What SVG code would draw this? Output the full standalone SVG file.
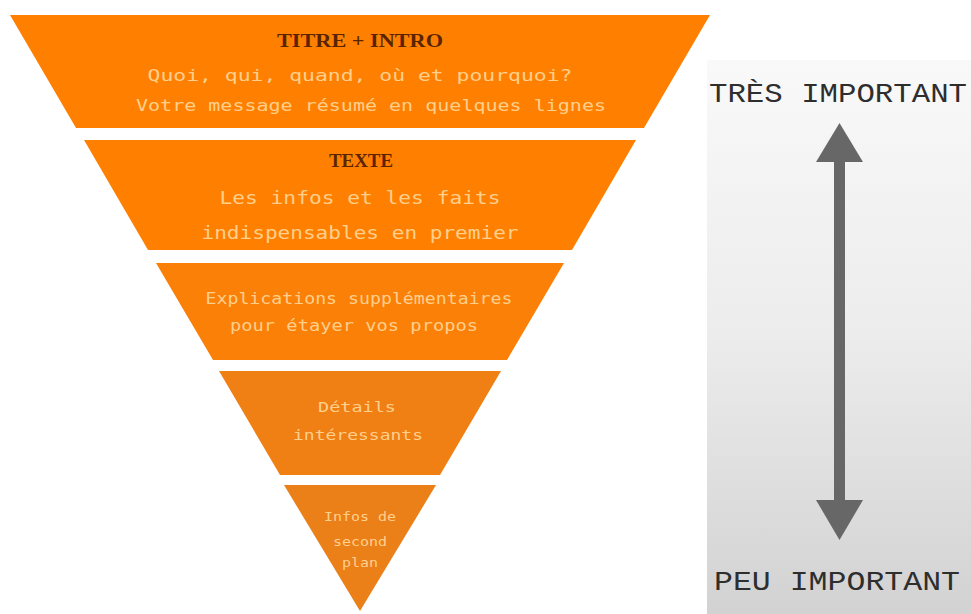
<svg xmlns="http://www.w3.org/2000/svg" width="971" height="614" viewBox="0 0 971 614">
<defs>
<linearGradient id="panel" x1="0" y1="0" x2="0" y2="1">
<stop offset="0" stop-color="#f9f9f9"/>
<stop offset="0.5" stop-color="#ececec"/>
<stop offset="1" stop-color="#d2d2d2"/>
</linearGradient>
<style>
.band{stroke:none}
.title{font-family:"Liberation Serif","DejaVu Serif",serif;font-weight:bold;fill:#5a2400;text-anchor:middle}
.body{font-family:"DejaVu Sans Mono","Liberation Mono",monospace;fill:#ffcf8c;text-anchor:middle}
.side{font-family:"Liberation Mono","DejaVu Sans Mono",monospace;fill:#2e2e2e;text-anchor:middle}
.arrow{fill:#676767}
</style>
</defs>
<rect width="971" height="614" fill="#ffffff"/>
<g id="panel-bg"><rect x="707" y="60" width="264" height="554" fill="url(#panel)"/></g>

<g id="band1">
<polygon class="band" points="10,15 710,15 644,128 76,128" fill="#ff8000"/>
<text class="title" x="360" y="47" font-size="19" textLength="166" lengthAdjust="spacingAndGlyphs">TITRE + INTRO</text>
<text class="body" x="360" y="81" font-size="16" textLength="425" lengthAdjust="spacingAndGlyphs">Quoi, qui, quand, où et pourquoi?</text>
<text class="body" x="371" y="111" font-size="16" textLength="470" lengthAdjust="spacingAndGlyphs">Votre message résumé en quelques lignes</text>
</g>

<g id="band2">
<polygon class="band" points="84,140 636,140 572,250 148,250" fill="#ff8000"/>
<text class="title" x="361" y="167" font-size="19" textLength="64" lengthAdjust="spacingAndGlyphs">TEXTE</text>
<text class="body" x="360" y="204" font-size="17" textLength="281" lengthAdjust="spacingAndGlyphs">Les infos et les faits</text>
<text class="body" x="360" y="239" font-size="17" textLength="317" lengthAdjust="spacingAndGlyphs">indispensables en premier</text>
</g>

<g id="band3">
<polygon class="band" points="156,263 564,263 507,360 213,360" fill="#fb8008"/>
<text class="body" x="359" y="304" font-size="15" textLength="307" lengthAdjust="spacingAndGlyphs">Explications supplémentaires</text>
<text class="body" x="354" y="331" font-size="15" textLength="248" lengthAdjust="spacingAndGlyphs">pour étayer vos propos</text>
</g>

<g id="band4">
<polygon class="band" points="219,371 501,371 440,475 280,475" fill="#f07f14"/>
<text class="body" x="357" y="412" font-size="14" textLength="78" lengthAdjust="spacingAndGlyphs">Détails</text>
<text class="body" x="358" y="440" font-size="14" textLength="130" lengthAdjust="spacingAndGlyphs">intéressants</text>
</g>

<g id="band5">
<polygon class="band" points="284,485 436,485 360,611" fill="#eb7f18"/>
<text class="body" x="360" y="521" font-size="12" textLength="72" lengthAdjust="spacingAndGlyphs">Infos de</text>
<text class="body" x="360" y="546" font-size="12" textLength="54" lengthAdjust="spacingAndGlyphs">second</text>
<text class="body" x="360" y="567" font-size="12" textLength="36" lengthAdjust="spacingAndGlyphs">plan</text>
</g>

<g id="label-top"><text class="side" x="838" y="102" font-size="28" textLength="258" lengthAdjust="spacingAndGlyphs">TRÈS IMPORTANT</text></g>
<g id="label-bottom"><text class="side" x="837" y="590" font-size="28" textLength="246" lengthAdjust="spacingAndGlyphs">PEU IMPORTANT</text></g>

<g id="connectors">
<rect class="arrow" x="834" y="158" width="11" height="346"/>
<polygon class="arrow" points="839.5,123 863,162 816,162"/>
<polygon class="arrow" points="816,500 863,500 839.5,540"/>
</g>
</svg>
